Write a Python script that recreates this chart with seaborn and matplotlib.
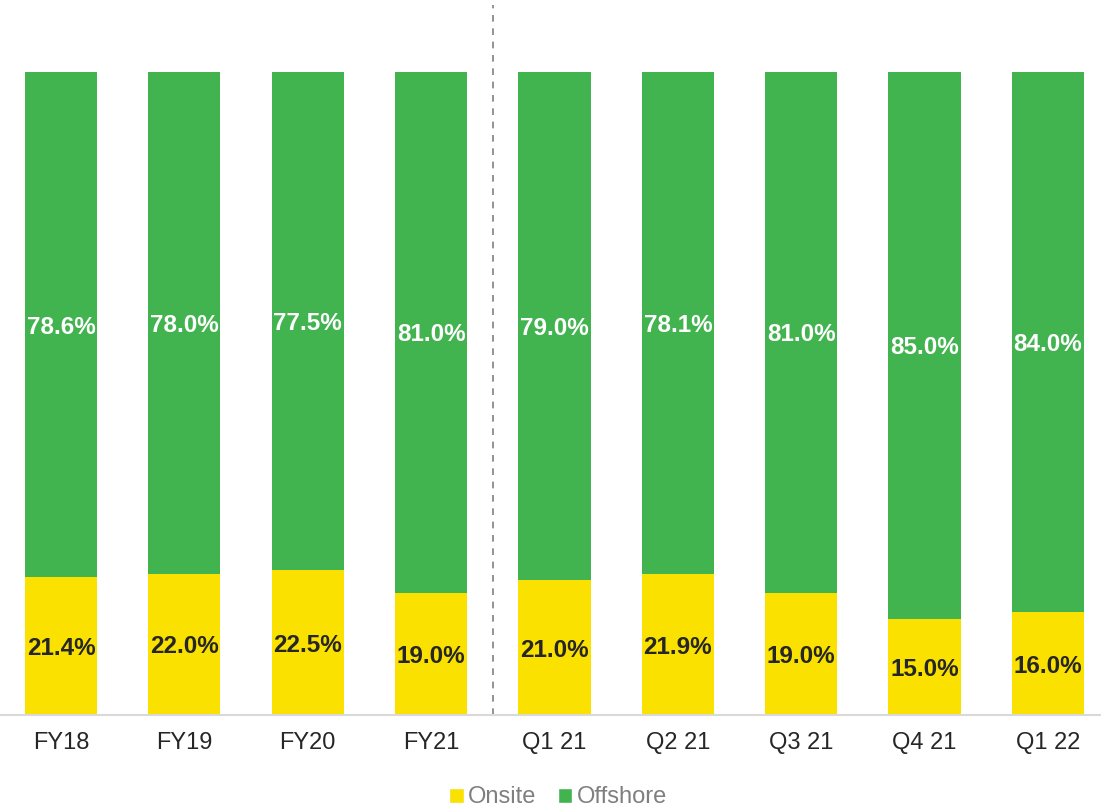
import numpy as np
import pandas as pd
import matplotlib
matplotlib.use("Agg")
import matplotlib.pyplot as plt
import seaborn as sns
from matplotlib.patches import Patch

# Daten
periods = ["FY18", "FY19", "FY20", "FY21", "Q1 21", "Q2 21", "Q3 21", "Q4 21", "Q1 22"]
onsite = [21.4, 22.0, 22.5, 19.0, 21.0, 21.9, 19.0, 15.0, 16.0]
offshore = [78.6, 78.0, 77.5, 81.0, 79.0, 78.1, 81.0, 85.0, 84.0]

yellow = "#FAE100"
green = "#41B34F"

df = pd.DataFrame({"period": periods, "onsite": onsite, "offshore": offshore})
df["total"] = df["onsite"] + df["offshore"]

sns.set_theme(style="white")
plt.rcParams["font.family"] = ["Liberation Sans", "DejaVu Sans"]

fig = plt.figure(figsize=(11.01, 8.08), dpi=100)
ax = fig.add_axes([0, 0.115, 1, 0.879])

# gestapelte Balken: Gesamt (grün) und darüber Onsite (gelb)
sns.barplot(data=df, x="period", y="total", color=green, width=0.585,
            saturation=1, linewidth=0, ax=ax)
sns.barplot(data=df, x="period", y="onsite", color=yellow, width=0.585,
            saturation=1, linewidth=0, ax=ax)

for i, (on, off) in enumerate(zip(onsite, offshore)):
    ax.text(i, on / 2, f"{on:.1f}%", ha="center", va="center_baseline",
            fontsize=17.5, fontweight="bold", color="#262626")
    ax.text(i, on + off / 2, f"{off:.1f}%", ha="center", va="center_baseline",
            fontsize=17.5, fontweight="bold", color="white")

# Trennlinie zwischen Jahres- und Quartalswerten
ax.axvline(3.5, color="#808080", linestyle=(0, (4, 4)), linewidth=1.2)

ax.set_xlim(-0.494, 8.43)
ax.set_ylim(0, 110.4)
ax.set_xlabel("")
ax.set_ylabel("")
ax.set_yticks([])
ax.tick_params(axis="x", labelsize=17, colors="#262626", length=0, pad=12)
for s in ["top", "left", "right"]:
    ax.spines[s].set_visible(False)
ax.spines["bottom"].set_color("#d9d9d9")
ax.spines["bottom"].set_linewidth(1.5)

handles = [Patch(facecolor=yellow, label="Onsite"),
           Patch(facecolor=green, label="Offshore")]
fig.legend(handles=handles, loc="center", bbox_to_anchor=(0.507, 0.013), ncol=2,
           frameon=False, fontsize=17, labelcolor="#7f7f7f",
           handlelength=0.6, handleheight=0.6, handletextpad=0.2,
           columnspacing=0.9)

fig.savefig("out.png", dpi=100)
